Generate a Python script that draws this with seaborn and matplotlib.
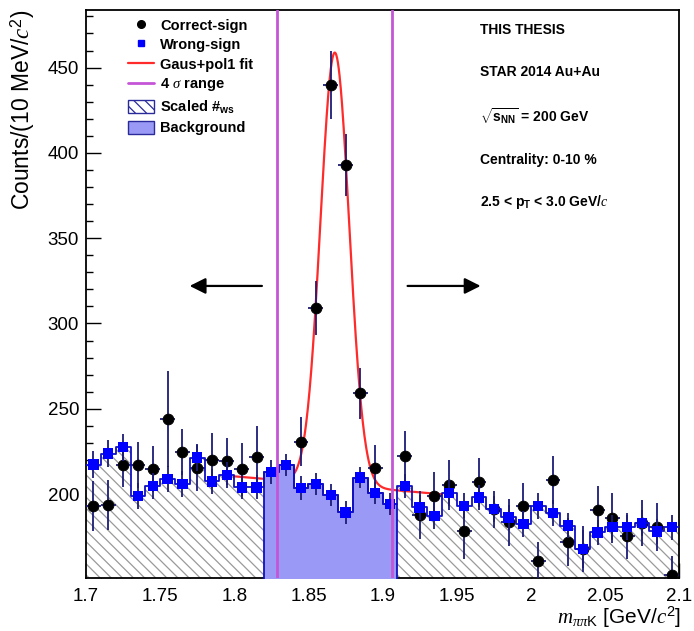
import numpy as np
import pandas as pd
import seaborn as sns
import matplotlib.pyplot as plt
from matplotlib.lines import Line2D
from matplotlib.patches import Patch
from matplotlib.ticker import MultipleLocator

# 40 bins of 10 MeV between 1.70 and 2.10 GeV
bin_lo, bin_hi, bin_w = 1.70, 2.10, 0.01
edges = np.round(np.arange(bin_lo, bin_hi + bin_w / 2, bin_w), 3)
centers = edges[:-1] + bin_w / 2

# wrong-sign (scaled) counts per bin
ws_counts = [217.3, 223.7, 227.5, 199.0, 204.9, 209.0, 205.8, 221.4, 207.4, 211.3,
             203.9, 203.9, 213.0, 217.0, 203.5, 205.8, 199.6, 189.2, 209.7, 200.6,
             194.3, 204.7, 192.2, 187.3, 200.6, 193.2, 198.0, 191.2, 186.3, 182.5,
             193.0, 188.9, 181.5, 167.8, 177.5, 180.5, 180.5, 183.0, 178.1, 180.5]
ws_err = [8.0, 8.0, 8.0, 7.5, 7.5, 7.5, 7.5, 8.0, 7.5, 7.5,
          7.0, 7.0, 7.0, 6.5, 7.0, 6.5, 6.5, 6.5, 6.0, 6.5,
          6.5, 7.0, 7.5, 7.5, 7.5, 7.5, 7.5, 7.5, 7.5, 7.5,
          7.5, 7.5, 7.5, 11.0, 7.5, 7.5, 7.5, 7.5, 7.5, 7.5]

# correct-sign counts per bin (nan = hidden behind the background fill)
cs_counts = [193.0, 193.7, 217.1, 217.1, 214.6, 244.0, 224.5, 215.2, 219.7, 219.1,
             214.6, 222.0, np.nan, np.nan, 230.8, 309.0, 440.0, 393.0, 259.0, 215.2,
             np.nan, 222.4, 187.9, 199.0, 205.4, 178.5, 206.8, 191.0, 183.4, 193.2,
             161.0, 208.4, 171.7, 168.0, 190.8, 186.0, 175.2, 183.0, 180.5, 152.8]
cs_err = [14.5, 14.5, 13.0, 13.5, 13.5, 28.0, 13.5, 13.5, 16.0, 13.5,
          15.5, 18.0, 14.5, 14.5, 14.5, 16.0, 20.0, 18.0, 15.0, 13.5,
          14.5, 14.5, 14.0, 14.0, 14.5, 16.5, 14.5, 11.0, 14.0, 13.5,
          11.0, 14.0, 14.0, 13.5, 14.0, 14.5, 13.5, 13.5, 14.0, 11.0]

# Gaus+pol1 fit result
fit_mean = 1.8678
fit_sigma = 0.0097
fit_amp = 253.5
fit_p0 = 205.3    # pol1 value at the mean
fit_p1 = -75.0    # pol1 slope per GeV
fit_lo, fit_hi = 1.80, 1.94

# background window
bkg_lo, bkg_hi = 1.82, 1.91

xtick_vals = [1.7, 1.75, 1.8, 1.85, 1.9, 1.95, 2.0, 2.05, 2.1]
xtick_labels = ['1.7', '1.75', '1.8', '1.85', '1.9', '1.95', '2', '2.05', '2.1']
ytick_vals = [200, 250, 300, 350, 400, 450]

info_lines = ['THIS THESIS',
              'STAR 2014 Au+Au',
              r'$\sqrt{\mathbf{s}_{\mathbf{NN}}}$ = 200 GeV',
              'Centrality: 0-10 %',
              r'2.5 < $\mathbf{p}_{\mathbf{T}}$ < 3.0 GeV/$c$']

df = pd.DataFrame({'m': centers, 'ws': ws_counts, 'ws_err': ws_err,
                   'cs': cs_counts, 'cs_err': cs_err})
inside = (df['m'] > bkg_lo) & (df['m'] < bkg_hi)
df['ws_out'] = np.where(inside, 0.0, df['ws'])
df['ws_in'] = np.where(inside, df['ws'], 0.0)

fit_x = np.linspace(fit_lo, fit_hi, 500)
fit_y = (fit_p0 + fit_p1 * (fit_x - fit_mean)
         + fit_amp * np.exp(-0.5 * ((fit_x - fit_mean) / fit_sigma) ** 2))

sns.set_theme(style='white')
plt.rcParams['font.family'] = ['Liberation Sans', 'DejaVu Sans']
plt.rcParams['mathtext.fontset'] = 'custom'
plt.rcParams['mathtext.rm'] = 'Liberation Sans'
plt.rcParams['mathtext.it'] = 'Liberation Serif:italic'
plt.rcParams['mathtext.bf'] = 'Liberation Sans:bold'
plt.rcParams['hatch.linewidth'] = 0.9
for k in ['text.color', 'axes.labelcolor', 'xtick.color', 'ytick.color', 'axes.edgecolor']:
    plt.rcParams[k] = 'black'

fig = plt.figure(figsize=(6.94, 6.31), dpi=100)
ax = fig.add_axes([0.124, 0.084, 0.8545, 0.900])

navy = '#1c1c78'
edge_blue = '#1010c0'
bins = list(edges)

# scaled wrong-sign outside the window, hatched
sns.histplot(data=df, x='m', weights='ws_out', bins=bins,
             element='step', fill=True, facecolor='white', edgecolor='#9a9a9a',
             hatch='\\\\\\', linewidth=0, alpha=1, ax=ax, zorder=1)

# fit curve
sns.lineplot(x=fit_x, y=fit_y, color='#ff2a2a', linewidth=1.6, estimator=None,
             ax=ax, zorder=2)

# correct-sign points
ax.errorbar(df['m'], df['cs'], yerr=df['cs_err'], xerr=bin_w / 2, fmt='none',
            ecolor=navy, elinewidth=1.3, capsize=0, zorder=3)
sns.scatterplot(data=df, x='m', y='cs', marker='o', s=60, color='black',
                edgecolor='black', ax=ax, zorder=3.5)

# background inside the window
sns.histplot(data=df, x='m', weights='ws_in', bins=bins,
             element='step', fill=True, facecolor='#9a9af6', edgecolor=edge_blue,
             linewidth=1.3, alpha=1, ax=ax, zorder=4)

# wrong-sign outline over full range
sns.histplot(data=df, x='m', weights='ws', bins=bins, element='step', fill=False,
             color=edge_blue, linewidth=1.3, ax=ax, zorder=5)

# wrong-sign points
ax.errorbar(df['m'], df['ws'], yerr=df['ws_err'], fmt='none', ecolor=navy,
            elinewidth=1.3, capsize=0, zorder=6)
sns.scatterplot(data=df, x='m', y='ws', marker='s', s=55, color='#0000ff',
                edgecolor='none', ax=ax, zorder=6.5)

# 4 sigma range
for xv in [fit_mean - 4 * fit_sigma, fit_mean + 4 * fit_sigma]:
    ax.axvline(xv, color='#c455d6', linewidth=2, zorder=7)

# side-band arrows
arrow_y = 322
ax.annotate('', xy=(1.768, arrow_y), xytext=(1.8205, arrow_y),
            arrowprops=dict(arrowstyle='-|>', color='black', lw=1.6, mutation_scale=24))
ax.annotate('', xy=(1.968, arrow_y), xytext=(1.915, arrow_y),
            arrowprops=dict(arrowstyle='-|>', color='black', lw=1.6, mutation_scale=24))

ax.set_xlim(bin_lo, bin_hi)
ax.set_ylim(150.8, 483.7)
ax.set_xticks(xtick_vals)
ax.set_xticklabels(xtick_labels)
ax.set_yticks(ytick_vals)
ax.xaxis.set_minor_locator(MultipleLocator(0.01))
ax.yaxis.set_minor_locator(MultipleLocator(10))
ax.tick_params(which='both', direction='in', top=False, right=False,
               bottom=True, left=True, width=1.0, labelsize=13.5)
ax.tick_params(which='major', length=11)
ax.tick_params(which='minor', length=5)
ax.tick_params(axis='x', pad=7)
ax.tick_params(axis='y', pad=5)
for sp in ax.spines.values():
    sp.set_linewidth(1.3)
    sp.set_color('black')

ax.set_xlabel(r'$m_{\pi\pi\mathrm{K}}$ [GeV/$c^{2}$]', fontsize=15, loc='right')
ax.xaxis.set_label_coords(1.003, -0.047)
ax.set_ylabel(r'Counts/(10 MeV/$c^{2}$)', fontsize=16.5, loc='top')
ax.yaxis.set_label_coords(-0.082, 1.0)

handles = [
    Line2D([], [], marker='o', color='black', linestyle='none', markersize=5.5),
    Line2D([], [], marker='s', color='#0000ff', linestyle='none', markersize=5),
    Line2D([], [], color='#ff2a2a', linewidth=1.6),
    Line2D([], [], color='#c455d6', linewidth=2),
    Patch(facecolor='white', edgecolor='#2a2a9a', hatch='\\\\\\', linewidth=1),
    Patch(facecolor='#9a9af6', edgecolor='#2a2a9a', linewidth=1),
]
labels = ['Correct-sign', 'Wrong-sign', 'Gaus+pol1 fit', r'4 $\sigma$ range',
          r'Scaled #$_{\mathbf{ws}}$', 'Background']
ax.legend(handles, labels, loc='upper left', bbox_to_anchor=(0.071, 0.986),
          frameon=False, prop={'weight': 'bold', 'size': 10.5}, borderpad=0,
          borderaxespad=0, handlelength=1.75, handleheight=1.0, handletextpad=0.45,
          labelspacing=0.34)

info_y = [0.965, 0.891, 0.812, 0.736, 0.662]
for txt, yy in zip(info_lines, info_y):
    ax.text(0.664, yy, txt, transform=ax.transAxes, ha='left', va='center',
            fontsize=10, fontweight='bold', zorder=8)

fig.savefig('out.png', dpi=100)
